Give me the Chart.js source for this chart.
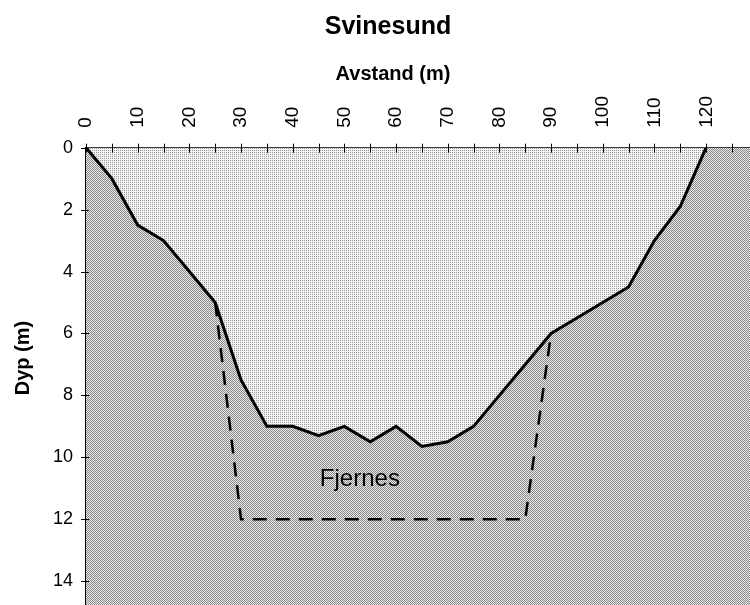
<!DOCTYPE html>
<html>
<head>
<meta charset="utf-8">
<script src="https://cdn.jsdelivr.net/npm/chart.js@4/dist/chart.umd.min.js"></script>
<style>
html, body { margin: 0; padding: 0; background: #fff; }
#ramme { width: 750px; height: 605px; }
</style>
</head>
<body>
<div id="ramme"><canvas id="svinesund"></canvas></div>
<script>
// Bunnprofil: avstand (m) og dyp (m)
var avstand = [0, 5, 10, 15, 20, 25, 30, 35, 40, 45, 50, 55, 60, 65, 70, 75, 80, 85, 90, 95, 100, 105, 110, 115, 120];
var dyp = [0, 1, 2.5, 3, 4, 5, 7.5, 9, 9, 9.3, 9, 9.5, 9, 9.65, 9.5, 9, 8, 7, 6, 5.5, 5, 4.5, 3, 1.9, 0];

// Omraadet som skal fjernes (stiplet linje)
var fjernesAvstand = [25, 30, 85, 90];
var fjernesDyp = [5, 12, 12, 6];

// Tekster
var tittel = "Svinesund";
var xTittel = "Avstand (m)";
var yTittel = "Dyp (m)";
var etikett = "Fjernes";
var etikettAvstand = 53;
var etikettDyp = 10.7;

function punkter(xs, ys) {
  return xs.map(function (x, i) { return { x: x, y: ys[i] }; });
}

// Prikkemonster som i originalen
function lagMonster(mork, lys, tett) {
  var c = document.createElement("canvas");
  c.width = 4; c.height = 4;
  var g = c.getContext("2d");
  g.fillStyle = lys;
  g.fillRect(0, 0, 4, 4);
  g.fillStyle = mork;
  for (var y = 0; y < 4; y++) {
    for (var x = 0; x < 4; x++) {
      if (tett ? (x + y) % 2 == 0 : (x % 2 == 0 && y % 2 == 0)) g.fillRect(x, y, 1, 1);
    }
  }
  return g.createPattern(c, "repeat");
}
var bunnMonster = lagMonster("#888888", "#eaeaea", true);
var vannMonster = lagMonster("#9a9a9a", "#f4f4f4", false);

// Bakgrunn (bunn) under vannet
var bakgrunn = {
  id: "bakgrunn",
  beforeDatasetsDraw: function (chart) {
    var a = chart.chartArea, ctx = chart.ctx;
    ctx.save();
    ctx.fillStyle = bunnMonster;
    ctx.fillRect(a.left, a.top, a.right - a.left, a.bottom - a.top);
    ctx.restore();
  }
};

// Tekster og smaa kryssende tikkmerker
var tekster = {
  id: "tekster",
  afterDraw: function (chart) {
    var ctx = chart.ctx, xs = chart.scales.x, ys = chart.scales.y;
    ctx.save();
    ctx.strokeStyle = "#000";
    ctx.lineWidth = 1;
    xs.ticks.forEach(function (t) {
      var px = Math.round(xs.getPixelForValue(t.value)) + 0.5;
      ctx.beginPath();
      ctx.moveTo(px, xs.bottom - 4);
      ctx.lineTo(px, xs.bottom + 5);
      ctx.stroke();
    });
    ys.ticks.forEach(function (t) {
      var py = Math.round(ys.getPixelForValue(t.value)) + 0.5;
      ctx.beginPath();
      ctx.moveTo(ys.right - 5, py);
      ctx.lineTo(ys.right + 3, py);
      ctx.stroke();
    });

    ctx.fillStyle = "#000";
    ctx.textAlign = "center";
    ctx.textBaseline = "middle";
    ctx.font = "bold 25px 'Liberation Sans', Arial, sans-serif";
    ctx.fillText(tittel, 388, 27);
    ctx.font = "bold 20px 'Liberation Sans', Arial, sans-serif";
    ctx.fillText(xTittel, 393, 74);
    ctx.save();
    ctx.translate(23, 358);
    ctx.rotate(-Math.PI / 2);
    ctx.fillText(yTittel, 0, 0);
    ctx.restore();
    ctx.font = "24px 'Liberation Sans', Arial, sans-serif";
    ctx.fillText(etikett, xs.getPixelForValue(etikettAvstand), ys.getPixelForValue(etikettDyp));
    ctx.restore();
  }
};

function ingenKant(scale) {
  scale.paddingLeft = 0;
  scale.paddingRight = 0;
  scale.paddingTop = 0;
  scale.paddingBottom = 0;
}

new Chart("svinesund", {
  type: "line",
  data: {
    datasets: [{
      label: "Bunn",
      data: punkter(avstand, dyp),
      borderColor: "#000",
      borderWidth: 3,
      pointRadius: 0,
      tension: 0,
      fill: { value: 0 },
      backgroundColor: vannMonster
    }, {
      label: etikett,
      data: punkter(fjernesAvstand, fjernesDyp),
      borderColor: "#000",
      borderWidth: 2.5,
      borderDash: [14, 9],
      pointRadius: 0,
      tension: 0,
      fill: false
    }]
  },
  options: {
    animation: false,
    responsive: true,
    maintainAspectRatio: false,
    layout: { padding: { top: 76, left: 40, right: 0, bottom: 0 } },
    plugins: {
      legend: { display: false },
      title: { display: false },
      tooltip: { enabled: false }
    },
    scales: {
      x: {
        type: "linear",
        position: "top",
        min: 0,
        max: 128.5,
        afterFit: ingenKant,
        grid: { drawOnChartArea: false, drawTicks: false },
        border: { color: "#000", width: 1.5 },
        ticks: {
          stepSize: 5,
          includeBounds: false,
          autoSkip: false,
          minRotation: 90,
          maxRotation: 90,
          padding: 20,
          labelOffset: 23,
          color: "#000",
          font: { family: "'Liberation Sans', Arial, sans-serif", size: 19 },
          callback: function (v) { return v % 10 == 0 ? v : ""; }
        }
      },
      y: {
        type: "linear",
        reverse: true,
        min: 0,
        max: 14.77,
        afterFit: ingenKant,
        grid: { drawOnChartArea: false, drawTicks: false },
        border: { color: "#000", width: 1.5 },
        ticks: {
          stepSize: 2,
          includeBounds: false,
          padding: 13,
          color: "#000",
          font: { family: "'Liberation Sans', Arial, sans-serif", size: 18 }
        }
      }
    }
  },
  plugins: [bakgrunn, tekster]
});
</script>
</body>
</html>
